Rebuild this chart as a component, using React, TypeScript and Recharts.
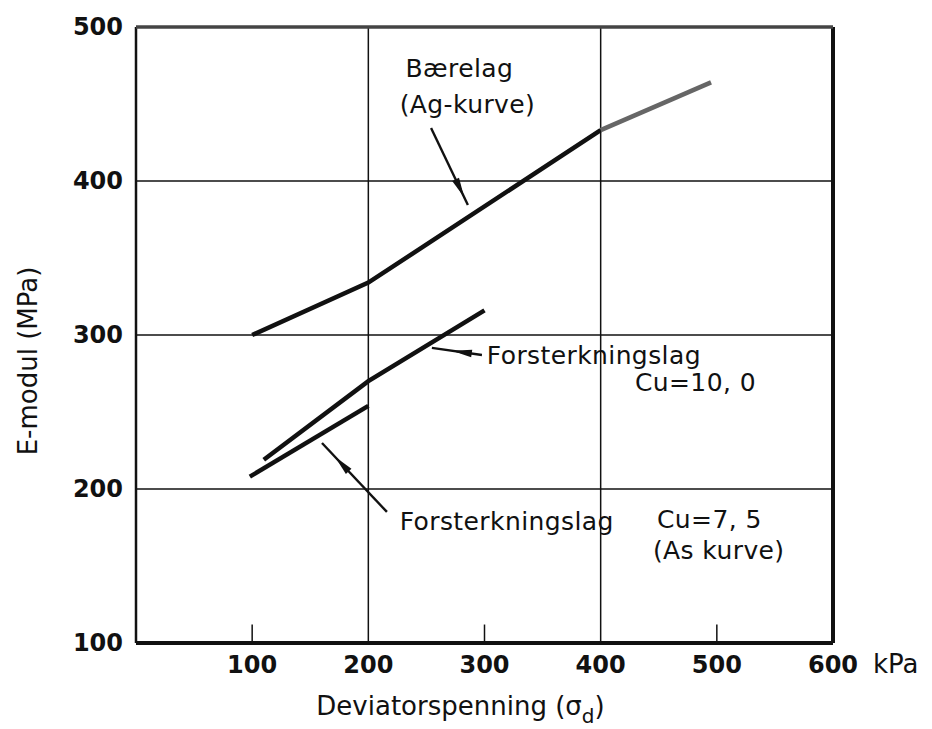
import React from "react";
import { LineChart, Line, XAxis, YAxis, ReferenceLine, ReferenceDot } from "recharts";

// E-modul vs deviatorspenning
const xTicks = [100, 200, 300, 400, 500, 600];
const yTicks = [100, 200, 300, 400, 500];
const gridX = [200, 400];
const gridY = [200, 300, 400];
const innerTicksX = [100, 300, 500];

const baerelagX = [100, 200, 400];
const baerelagY = [300, 334, 433];
const baerelagExtX = [400, 495];
const baerelagExtY = [433, 464];
const cu10X = [110, 200, 300];
const cu10Y = [219, 270, 316];
const cu75X = [98, 200];
const cu75Y = [208, 254];

const zip = (xs: number[], ys: number[]) => xs.map((x, i) => ({ x, y: ys[i] }));

const FONT = "'DejaVu Sans', sans-serif";
const INK = "#111";

// annotation text, placed in data units (left edge, baseline)
const notes = [
  { text: "Bærelag", x: 232, y: 467.5 },
  { text: "(Ag-kurve)", x: 227, y: 444 },
  { text: "Forsterkningslag", x: 302, y: 281 },
  { text: "Cu=10, 0", x: 429.5, y: 263.5 },
  { text: "Forsterkningslag", x: 227, y: 173.5 },
  { text: "Cu=7, 5", x: 448.5, y: 174.5 },
  { text: "(As kurve)", x: 445, y: 154.5 },
];

// pointer arrows: from label to curve, head at fraction `at` of the way
const arrows = [
  { from: { x: 254, y: 434.4 }, to: { x: 285.7, y: 384.4 }, at: 0.9 },
  { from: { x: 297.8, y: 287 }, to: { x: 254.7, y: 291.6 }, at: 0.6 },
  { from: { x: 216, y: 185.1 }, to: { x: 160.1, y: 229.9 }, at: 0.8 },
];

function ArrowShape(props: any) {
  const { x1, y1, x2, y2, at } = props;
  const tx = x1 + (x2 - x1) * at;
  const ty = y1 + (y2 - y1) * at;
  const len = Math.hypot(x2 - x1, y2 - y1) || 1;
  const ux = (x2 - x1) / len;
  const uy = (y2 - y1) / len;
  const bx = tx - ux * 20;
  const by = ty - uy * 20;
  const hw = 3.8;
  const pts = `${tx},${ty} ${bx - uy * hw},${by + ux * hw} ${bx + uy * hw},${by - ux * hw}`;
  return (
    <g>
      <line x1={x1} y1={y1} x2={x2} y2={y2} stroke={INK} strokeWidth={2.4} />
      <polygon points={pts} fill={INK} />
    </g>
  );
}

function NoteShape(props: any) {
  const { cx, cy, text } = props;
  return (
    <text x={cx} y={cy} fontFamily={FONT} fontSize={25} letterSpacing={0.4} fill={INK}>
      {text}
    </text>
  );
}

function XTick(props: any) {
  const { x, y, payload } = props;
  return (
    <g>
      <text x={x} y={y} dy={30} textAnchor="middle" fontFamily={FONT} fontWeight="bold" fontSize={24} fill={INK}>
        {payload.value}
      </text>
      {payload.value === 600 && (
        <text x={x + 40} y={y} dy={30} fontFamily={FONT} fontSize={26} fill={INK}>
          kPa
        </text>
      )}
    </g>
  );
}

function YTick(props: any) {
  const { x, y, payload } = props;
  return (
    <text x={x - 13} y={y} dy={8} textAnchor="end" fontFamily={FONT} fontWeight="bold" fontSize={24} fill={INK}>
      {payload.value}
    </text>
  );
}

function XTitle(props: any) {
  const { viewBox } = props;
  const cx = viewBox.x + viewBox.width / 2 - 24;
  return (
    <text x={cx} y={viewBox.y + 72} textAnchor="middle" fontFamily={FONT} fontSize={26} fill={INK}>
      Deviatorspenning (σ
      <tspan fontSize={20} dy={8}>d</tspan>
      <tspan dy={-8}>)</tspan>
    </text>
  );
}

function YTitle(props: any) {
  const { viewBox } = props;
  const cy = viewBox.y + viewBox.height / 2 + 26;
  return (
    <text
      x={37}
      y={cy}
      transform={`rotate(-90 37 ${cy})`}
      textAnchor="middle"
      fontFamily={FONT}
      fontSize={26}
      fill={INK}
    >
      E-modul (MPa)
    </text>
  );
}

export default function App() {
  return (
    <div style={{ position: "absolute", left: 0, top: 0, width: 932, height: 729, background: "#fff" }}>
      <LineChart width={932} height={729} margin={{ top: 27, right: 99, bottom: 0, left: 0 }}>
        <XAxis
          type="number"
          dataKey="x"
          domain={[0, 600]}
          ticks={xTicks}
          axisLine={false}
          tickLine={false}
          tickSize={0}
          tickMargin={0}
          height={86}
          tick={<XTick />}
          label={<XTitle />}
          allowDuplicatedCategory={false}
        />
        <YAxis
          type="number"
          dataKey="y"
          domain={[100, 500]}
          ticks={yTicks}
          axisLine={false}
          tickLine={false}
          tickSize={0}
          tickMargin={0}
          width={136}
          tick={<YTick />}
          label={<YTitle />}
        />

        {gridX.map((v) => (
          <ReferenceLine key={`gx${v}`} x={v} stroke={INK} strokeWidth={1.5} />
        ))}
        {gridY.map((v) => (
          <ReferenceLine key={`gy${v}`} y={v} stroke={INK} strokeWidth={1.5} />
        ))}
        {innerTicksX.map((v) => (
          <ReferenceLine
            key={`tk${v}`}
            segment={[
              { x: v, y: 100 },
              { x: v, y: 112 },
            ]}
            stroke={INK}
            strokeWidth={1.5}
          />
        ))}

        {/* frame */}
        <ReferenceLine x={0} stroke={INK} strokeWidth={2.5} />
        <ReferenceLine x={600} stroke={INK} strokeWidth={4} />
        <ReferenceLine y={100} stroke={INK} strokeWidth={4} />
        <ReferenceLine y={500} stroke="#444" strokeWidth={3.5} />

        <Line data={zip(baerelagX, baerelagY)} dataKey="y" stroke={INK} strokeWidth={4.5} dot={false} isAnimationActive={false} />
        <Line data={zip(baerelagExtX, baerelagExtY)} dataKey="y" stroke="#666" strokeWidth={4.5} dot={false} isAnimationActive={false} />
        <Line data={zip(cu10X, cu10Y)} dataKey="y" stroke={INK} strokeWidth={4.5} dot={false} isAnimationActive={false} />
        <Line data={zip(cu75X, cu75Y)} dataKey="y" stroke={INK} strokeWidth={4.5} dot={false} isAnimationActive={false} />

        {arrows.map((a, i) => (
          <ReferenceLine
            key={`ar${i}`}
            segment={[a.from, a.to]}
            shape={(p: any) => <ArrowShape {...p} at={a.at} />}
          />
        ))}
        {notes.map((n, i) => (
          <ReferenceDot key={`nt${i}`} x={n.x} y={n.y} r={0} shape={(p: any) => <NoteShape {...p} text={n.text} />} />
        ))}
      </LineChart>
    </div>
  );
}
